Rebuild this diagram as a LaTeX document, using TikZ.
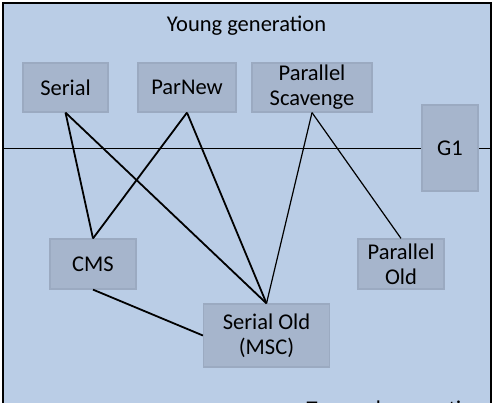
\documentclass[tikz,border=0pt]{standalone}
\usepackage{fontspec}
\setmainfont{Carlito}
\usepackage{xcolor}
\usetikzlibrary{positioning}
\definecolor{genbg}{HTML}{BACDE6}
\definecolor{boxfill}{HTML}{A6B5CC}
\definecolor{boxline}{HTML}{9BAAC1}

\begin{document}
\begin{tikzpicture}[x=1pt,y=-1pt,
  box/.style={draw=boxline,fill=boxfill,line width=1.2pt,align=center,inner sep=0pt,
    font=\fontsize{22.5}{25}\selectfont,minimum width=85pt,minimum height=49pt},
  lab/.style={font=\fontsize{22.5}{25}\selectfont},
  link/.style={line width=1.8pt},
  thinlink/.style={line width=1.2pt}]
\useasboundingbox (0,0) rectangle (495,402);
% generation frame
\fill[genbg] (3,3) rectangle (491,412);
\draw[line width=1.4pt] (3,412) -- (3,3) -- (491,3) -- (491,412);
\coordinate (divl) at (3,148);
\coordinate (divr) at (491,148);
\draw[line width=0.9pt] (divl) -- (divr);
\node[lab,anchor=base] (young) at (246.5,31.5) {Young generation};
\node[lab,anchor=base west] (tenured) at (303,416) {Tenured generation};
% collectors
\node[box] (serial) at (65.5,87.5) {Serial};
\node[box,minimum width=98pt] (parnew) at (187,87.5) {ParNew};
\node[box,minimum width=120pt] (pscav) at (312,87.5) {Parallel\\Scavenge};
\node[box,minimum width=56pt,minimum height=86pt] (gone) at (450,148) {G1};
\node[box,minimum width=86pt,minimum height=50pt] (cms) at (93,264) {CMS};
\node[box,minimum width=86pt,minimum height=50pt] (pold) at (401,264) {Parallel\\Old};
\node[box,minimum width=126pt,minimum height=63pt] (sold) at (266.5,335.5) {Serial Old\\(MSC)};
% combinations
\draw[link] (serial.south) -- (cms.north);
\draw[link] (serial.south) -- (sold.north);
\draw[link] (parnew.south) -- (cms.north);
\draw[link] (parnew.south) -- (sold.north);
\draw[thinlink] (pscav.south) -- (sold.north);
\draw[thinlink] (pscav.south) -- (pold.north);
\draw[link] (cms.south) -- (sold.west);
\end{tikzpicture}
\end{document}
